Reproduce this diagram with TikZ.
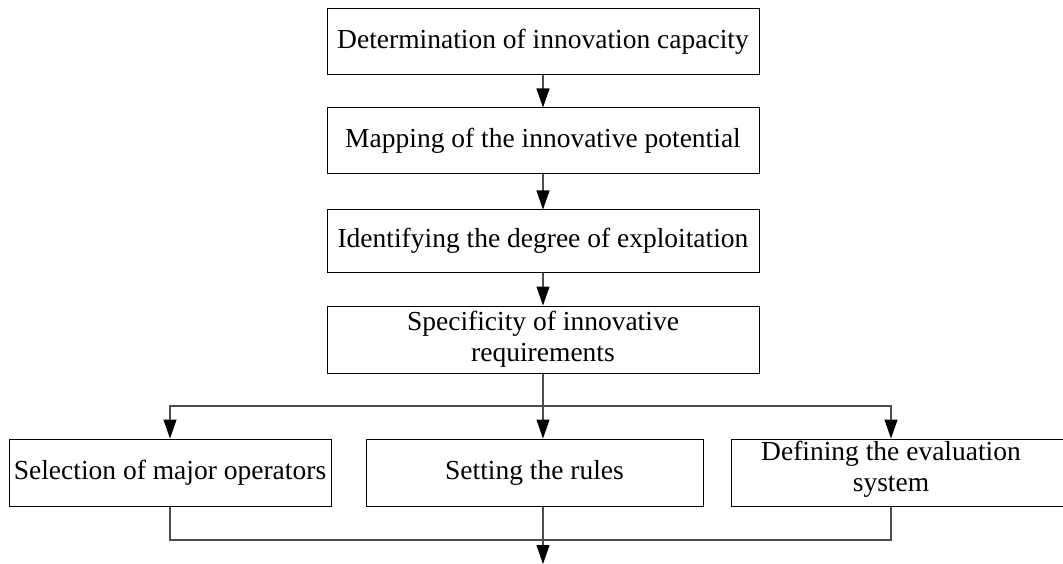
\documentclass[tikz,border=0pt]{standalone}
\usepackage{fontspec}
\setmainfont{Liberation Serif}
\usetikzlibrary{arrows.meta}
\begin{document}
\begin{tikzpicture}[x=1pt,y=-1pt,
  box/.style={draw=black, line width=1pt, inner sep=0pt, align=center, font=\fontsize{27.5}{31}\selectfont},
  lbl/.style={inner sep=0pt, align=center, font=\fontsize{27.5}{31}\selectfont},
  conn/.style={draw=black!70, line width=1.2pt},
  arr/.style={conn, -{Triangle[length=19pt,width=13pt,color=black]}}]
\useasboundingbox (0,0) rectangle (1063,564);
\node[box, minimum width=432pt, minimum height=66pt] (b1) at (543,42) {Determination of innovation capacity};
\node[box, minimum width=432pt, minimum height=66pt] (b2) at (543,141) {Mapping of the innovative potential};
\node[box, minimum width=432pt, minimum height=62pt] (b3) at (543,241) {Identifying the degree of exploitation};
\node[box, minimum width=432pt, minimum height=67pt] (b4) at (543,339.5) {Specificity of innovative\\requirements};
\node[box, minimum width=322pt, minimum height=67pt] (b5) at (170,472.5) {Selection of major operators};
\node[box, minimum width=337pt, minimum height=67pt] (b6) at (534.5,472.5) {Setting the rules};
\node[box, minimum width=339pt, minimum height=67pt] (b7) at (900.5,472.5) {};
\node[lbl] (t7) at (891,469) {Defining the evaluation\\system};
\coordinate (split) at (543,406);
\coordinate (merge) at (543,540);
\coordinate (end) at (543,564);
\draw[arr] (b1.south) -- (b2.north);
\draw[arr] (b2.south) -- (b3.north);
\draw[arr] (b3.south) -- (b4.north);
\draw[arr] (b4.south) -- (b4.south |- b6.north);
\draw[arr] (split) -| (b5.north);
\draw[arr] (split) -| (t7 |- b7.north);
\draw[conn] (b5.south) |- (t7 |- merge) -- (t7 |- b7.south);
\draw[conn] (b4.south |- b6.south) -- (merge);
\draw[arr] (merge) -- (end);
\end{tikzpicture}
\end{document}
